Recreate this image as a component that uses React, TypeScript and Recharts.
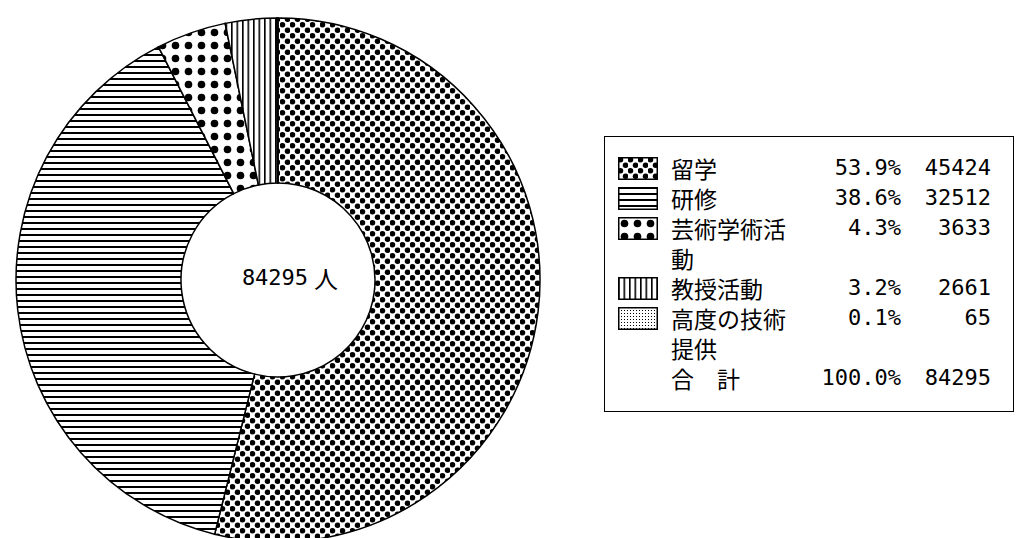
import { PieChart, Pie, Cell, Legend } from 'recharts';

// 在留資格別 (人)
const categories = ['留学', '研修', '芸術学術活動', '教授活動', '高度の技術提供'];
const counts = [45424, 32512, 3633, 2661, 65];
const shares = ['53.9%', '38.6%', '4.3%', '3.2%', '0.1%'];
const totalLabel = '合　計';
const totalShare = '100.0%';
const totalCount = 84295;
const patternIds = ['pat-dots', 'pat-hlines', 'pat-bigdots', 'pat-vlines', 'pat-stipple'];

const data = categories.map((name, i) => ({ name, value: counts[i] }));

const CX = 273;
const CY = 275;

const numFont = '"DejaVu Sans Mono", monospace';
const jpFont = '"Noto Sans CJK JP", sans-serif';

function Patterns() {
    return (
        <defs>
            <pattern id="pat-dots" patternUnits="userSpaceOnUse" width="10" height="11">
                <rect width="10" height="11" fill="#fff" />
                <circle cx="2.5" cy="2.75" r="2.75" fill="#000" />
                <circle cx="7.5" cy="8.25" r="2.75" fill="#000" />
            </pattern>
            <pattern id="pat-hlines" patternUnits="userSpaceOnUse" width="6" height="6">
                <rect width="6" height="6" fill="#fff" />
                <rect y="0" width="6" height="2" fill="#000" />
            </pattern>
            <pattern id="pat-bigdots" patternUnits="userSpaceOnUse" width="13" height="13">
                <rect width="13" height="13" fill="#fff" />
                <circle cx="6.5" cy="6.5" r="3.8" fill="#000" />
            </pattern>
            <pattern id="pat-vlines" patternUnits="userSpaceOnUse" width="5.5" height="6">
                <rect width="5.5" height="6" fill="#fff" />
                <rect x="0" width="1.6" height="6" fill="#000" />
            </pattern>
            <pattern id="pat-stipple" patternUnits="userSpaceOnUse" width="3" height="3">
                <rect width="3" height="3" fill="#fff" />
                <rect width="1" height="1" fill="#000" />
            </pattern>
        </defs>
    );
}

function CenterText() {
    return (
        <text x={CX + 17} y={CY + 2} textAnchor="middle" dominantBaseline="central" fill="#000">
            <tspan fontFamily={numFont} fontSize={22}>{totalCount}</tspan>
            <tspan fontFamily={jpFont} fontSize={24} dx={6}>人</tspan>
        </text>
    );
}

function LegendBox() {
    const row = (key: string, label: string, share: string, count: number, pat?: string) => (
        <div key={key} style={{ position: 'relative', paddingLeft: 66, lineHeight: '30px' }}>
            {pat && (
                <svg width={40} height={23} style={{ position: 'absolute', left: 13, top: 4 }}>
                    <rect x={0.75} y={0.75} width={38.5} height={21.5} fill={`url(#${pat})`} stroke="#000" strokeWidth={1.5} />
                </svg>
            )}
            <div style={{ width: 122, fontFamily: jpFont, fontSize: 23, lineHeight: '30px', lineBreak: 'anywhere' as any }}>{label}</div>
            <div style={{ position: 'absolute', top: 0, right: 112, fontFamily: numFont, fontSize: 22, lineHeight: '30px' }}>{share}</div>
            <div style={{ position: 'absolute', top: 0, right: 22, fontFamily: numFont, fontSize: 22, lineHeight: '30px' }}>{count}</div>
        </div>
    );
    return (
        <div style={{
            width: 410, height: 276, boxSizing: 'border-box', border: '1.5px solid #000',
            paddingTop: 16, background: '#fff', color: '#000'
        }}>
            {categories.map((c, i) => row(c, c, shares[i], counts[i], patternIds[i]))}
            {row('total', totalLabel, totalShare, totalCount)}
        </div>
    );
}

export default function App() {
    return (
        <div style={{ position: 'absolute', left: 0, top: 0, width: 1017, height: 538, background: '#fff' }}>
            <PieChart width={1017} height={538}>
                <Patterns />
                <Pie
                    data={data}
                    dataKey="value"
                    nameKey="name"
                    cx={CX}
                    cy={CY}
                    innerRadius={97}
                    outerRadius={262}
                    startAngle={90}
                    endAngle={-270}
                    stroke="#000"
                    strokeWidth={1.5}
                    isAnimationActive={false}
                >
                    {data.map((d, i) => (
                        <Cell key={d.name} fill={`url(#${patternIds[i]})`} />
                    ))}
                </Pie>
                <CenterText />
                <Legend
                    content={() => <LegendBox />}
                    wrapperStyle={{ position: 'absolute', left: 604, top: 136, width: 410, height: 276 }}
                />
            </PieChart>
        </div>
    );
}
